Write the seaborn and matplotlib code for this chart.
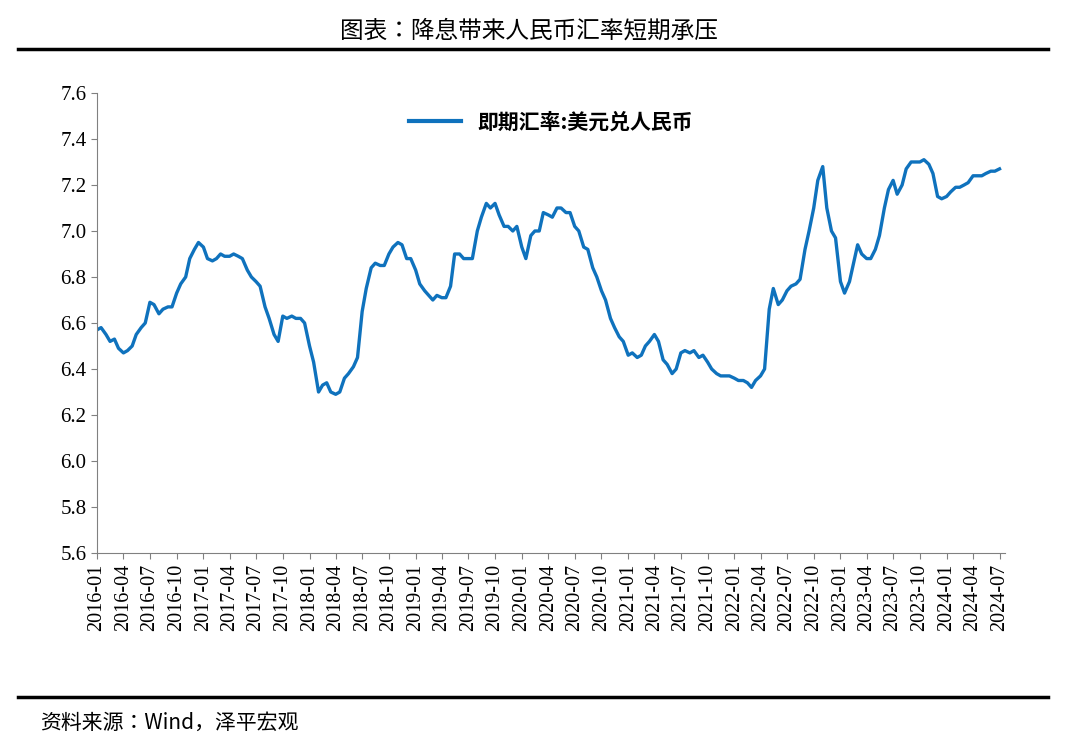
import matplotlib
matplotlib.use("Agg")
import matplotlib.pyplot as plt
from matplotlib import font_manager as fm
from matplotlib.lines import Line2D
import pandas as pd
import seaborn as sns

values = [
 6.57,6.58,6.55,6.52,6.53,6.49,6.47,6.48,6.50,6.55,6.58,6.60,6.69,6.68,6.64,6.66,6.67,6.67,6.73,6.77,6.80,6.88,6.92,6.95,
 6.93,6.88,6.87,6.88,6.90,6.89,6.89,6.90,6.89,6.88,6.83,6.80,6.78,6.76,6.67,6.62,6.55,6.52,6.63,6.62,6.63,6.62,6.62,6.60,
 6.50,6.43,6.30,6.33,6.34,6.30,6.29,6.30,6.36,6.38,6.41,6.45,6.65,6.75,6.84,6.86,6.85,6.85,6.90,6.93,6.95,6.94,6.88,6.88,
 6.83,6.77,6.74,6.72,6.70,6.72,6.71,6.71,6.76,6.90,6.90,6.88,6.88,6.88,7.00,7.06,7.12,7.10,7.12,7.07,7.02,7.02,7.00,7.02,
 6.93,6.88,6.98,7.00,7.00,7.08,7.07,7.06,7.10,7.10,7.08,7.08,7.02,7.00,6.93,6.92,6.84,6.80,6.74,6.70,6.62,6.58,6.54,6.52,
 6.46,6.47,6.45,6.46,6.50,6.52,6.55,6.52,6.44,6.42,6.38,6.40,6.47,6.48,6.47,6.48,6.45,6.46,6.43,6.40,6.38,6.37,6.37,6.37,
 6.36,6.35,6.35,6.34,6.32,6.35,6.37,6.40,6.66,6.75,6.68,6.70,6.74,6.76,6.77,6.79,6.92,7.00,7.10,7.22,7.28,7.10,7.00,6.97,
 6.78,6.73,6.78,6.86,6.94,6.90,6.88,6.88,6.92,6.98,7.10,7.18,7.22,7.16,7.20,7.27,7.30,7.30,7.30,7.31,7.29,7.25,7.15,7.14,
 7.15,7.17,7.19,7.19,7.20,7.21,7.24,7.24,7.24,7.25,7.26,7.26,7.27,
]
dates = []
for y in range(2016, 2025):
    for m in range(1, 13):
        for d in (1, 15):
            dates.append(pd.Timestamp(y, m, d))
dates = dates[:len(values)]
df = pd.DataFrame({"date": dates, "rate": values})

tick_dates = pd.date_range("2016-01-01", "2024-07-01", freq="3MS")
tick_labels = [d.strftime("%Y-%m") for d in tick_dates]
yticks = [5.6,5.8,6.0,6.2,6.4,6.6,6.8,7.0,7.2,7.4,7.6]

# register CJK fonts explicitly
cjk = "Noto Sans CJK SC"
for f in fm.findSystemFonts():
    if "CJK" in f or "cjk" in f.lower():
        try:
            fm.fontManager.addfont(f)
        except Exception:
            pass
names = {f.name for f in fm.fontManager.ttflist}
for cand in ["Noto Sans CJK SC", "Noto Sans CJK JP", "Noto Sans CJK TC", "Noto Sans CJK KR"]:
    if cand in names:
        cjk = cand
        break
serif = "Liberation Serif"
color = "#0F72BD"

fig = plt.figure(figsize=(10.8, 7.45), dpi=100)
ax = fig.add_axes([0.0898, 0.2577, 0.8408, 0.6175])
sns.lineplot(data=df, x="date", y="rate", ax=ax, color=color, linewidth=2.4)
ax.set_xlim(pd.Timestamp("2016-01-01"), pd.Timestamp("2024-07-20"))
ax.set_ylim(5.6, 7.6)
ax.set_yticks(yticks)
ax.set_yticklabels([f"{v:.1f}" for v in yticks], fontfamily=serif, fontsize=15)
ax.set_xticks(tick_dates)
ax.set_xticklabels(tick_labels, rotation=90, fontfamily=serif, fontsize=14.5)
ax.set_xlabel(""); ax.set_ylabel("")
for s in ("top", "right"):
    ax.spines[s].set_visible(False)
for s in ("left", "bottom"):
    ax.spines[s].set_color("#808080")
ax.tick_params(direction="out", length=4, color="#808080")

h = Line2D([0], [0], color=color, lw=3)
ax.legend([h], ["即期汇率:美元兑人民币"], loc="upper center", frameon=False,
          prop={"family": cjk, "size": 15, "weight": "bold"}, bbox_to_anchor=(0.5, 1.0), handlelength=2.5)

fig.text(0.49, 0.958, "图表：降息带来人民币汇率短期承压", ha="center", va="center", fontfamily=cjk, fontsize=17)
fig.add_artist(Line2D([0.017, 0.97], [0.934, 0.934], color="black", lw=2.5))
fig.add_artist(Line2D([0.017, 0.97], [0.065, 0.065], color="black", lw=2.5))
fig.text(0.037, 0.03, "资料来源：Wind，泽平宏观", ha="left", va="center", fontfamily=cjk, fontsize=15, style="italic")

fig.savefig("out.png", dpi=100)
